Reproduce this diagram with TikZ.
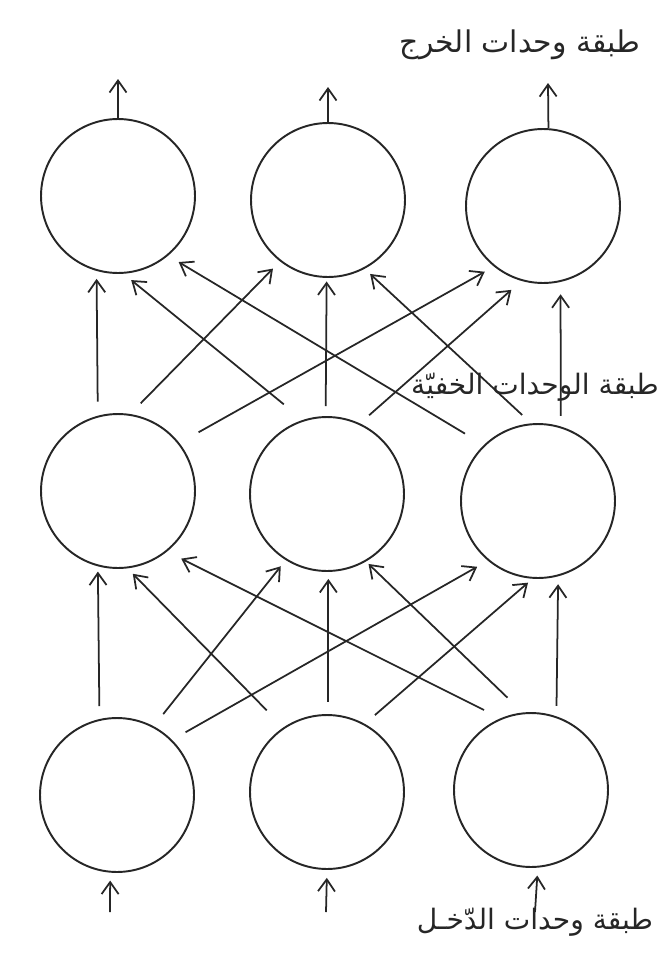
\documentclass[tikz,border=0pt]{standalone}
\usepackage{fontspec}
\newfontfamily\arabicfont[Script=Arabic]{DejaVu Sans}
\TeXXeTstate=1
\usetikzlibrary{arrows.meta}

\begin{document}
\begin{tikzpicture}[x=0.02cm,y=-0.02cm,>={Straight Barb[length=2.4mm,width=3.4mm]},
  unit/.style={draw=black!85,circle,line width=1.1pt,minimum size=3.08cm,inner sep=0pt},
  link/.style={->,draw=black!85,line width=1pt},
  layername/.style={font=\arabicfont\fontsize{16}{19}\selectfont,text=black!85,inner sep=0pt}]
\useasboundingbox (0,0) rectangle (671,964);
% output layer
\node[unit] (o1) at (118,196) {};
\node[unit] (o2) at (328,200) {};
\node[unit] (o3) at (543,206) {};
% hidden layer
\node[unit] (h1) at (118,491) {};
\node[unit] (h2) at (327,494) {};
\node[unit] (h3) at (538,501) {};
% input layer
\node[unit] (i1) at (117,795) {};
\node[unit] (i2) at (327,792) {};
\node[unit] (i3) at (531,790) {};
% layer names
\node[layername,font=\arabicfont\fontsize{17}{20}\selectfont] (outname) at (520,45) {\beginR طبقة وحدات الخرج\endR};
\node[layername] (hidname) at (535,387) {\beginR طبقة الوحدات الخفيّة\endR};
\node[layername] (inname) at (535,922) {\beginR طبقة وحدات الدّخـل\endR};
% free ends
\coordinate (out1) at (118,79);
\coordinate (out2) at (328,87);
\coordinate (out3) at (548,83);
\coordinate (in1) at (110,912);
\coordinate (in2) at (326,912);
\coordinate (in3) at (535,912);
\draw[link] (o1.90) -- (out1);
\draw[link] (o2.90) -- (out2);
\draw[link] (o3.86) -- (out3);
\draw[link,shorten >=4.5pt] (in1) -- (i1.265);
\draw[link,shorten >=4.5pt] (in2) -- (i2.270);
\draw[link,shorten >=4.5pt] (in3) -- (i3.275);
% hidden -> output
\draw[link,shorten <=8pt,shorten >=4.5pt] (h1.105) -- (o1.254);
\draw[link,shorten <=8.5pt,shorten >=5.7pt] (h1.81) -- (o2.232);
\draw[link,shorten <=12.5pt,shorten >=6pt] (h1.38) -- (o3.231);
\draw[link,shorten <=14pt,shorten >=5.7pt] (h2.108) -- (o1.274);
\draw[link,shorten <=5.7pt,shorten >=2pt] (h2.91) -- (o2.269);
\draw[link,shorten <=7pt,shorten >=7.7pt] (h2.65) -- (o3.254);
\draw[link,shorten <=12.5pt,shorten >=7pt] (h3.134) -- (o1.310);
\draw[link,shorten <=7pt,shorten >=4.3pt] (h3.95) -- (o2.298);
\draw[link,shorten <=6pt,shorten >=7pt] (h3.73) -- (o3.283);
% input -> hidden
\draw[link,shorten <=7.4pt,shorten >=3pt] (i1.103) -- (h1.255);
\draw[link,shorten <=8.8pt,shorten >=4.5pt] (i1.62) -- (h2.238);
\draw[link,shorten <=8.8pt,shorten >=7pt] (i1.45) -- (h3.230);
\draw[link,shorten <=13.6pt,shorten >=4.3pt] (i2.124) -- (h1.277);
\draw[link,shorten <=7pt,shorten >=4pt] (i2.89) -- (h2.271);
\draw[link,shorten <=7.6pt,shorten >=3.4pt] (i2.61) -- (h3.266);
\draw[link,shorten <=10.5pt,shorten >=9pt] (i3.113) -- (h1.309);
\draw[link,shorten <=12.2pt,shorten >=2pt] (i3.96) -- (h2.300);
\draw[link,shorten <=6pt,shorten >=4.5pt] (i3.71) -- (h3.285);
\end{tikzpicture}
\end{document}
